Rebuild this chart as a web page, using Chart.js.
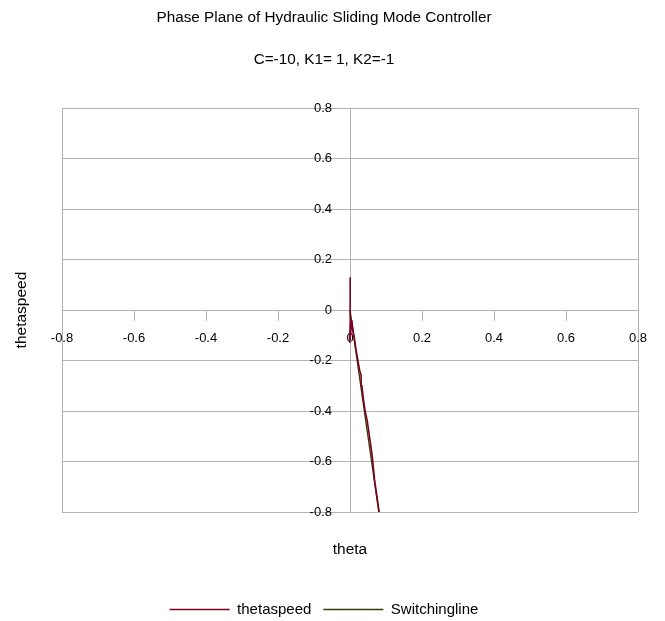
<!DOCTYPE html>
<html>
<head>
<meta charset="utf-8">
<script src="https://cdn.jsdelivr.net/npm/chart.js@4/dist/chart.umd.min.js"></script>
<style>
  html, body { margin: 0; padding: 0; background: #fff; }
  #wrap { width: 665px; height: 621px; }
</style>
</head>
<body>
<div id="wrap"><canvas id="c" width="665" height="621"></canvas></div>
<script>
// Phase-plane trajectory (theta, theta speed)
const trajTheta = [0.086, 0.081, 0.075, 0.068, 0.064, 0.061, 0.056, 0.052, 0.048, 0.042,
                   0.037, 0.033, 0.031, 0.027, 0.022, 0.017, 0.012, 0.008, 0.005, 0.002,
                   -0.001, 0.001, 0.0005, 0.0, 0.001, 0.0, 0.0008, 0.0];
const trajSpeed = [-0.84, -0.80, -0.74, -0.67, -0.61, -0.57, -0.52, -0.48, -0.44, -0.40,
                   -0.35, -0.30, -0.26, -0.24, -0.20, -0.16, -0.11, -0.08, -0.04, -0.09,
                   -0.13, -0.03, 0.13, 0.02, 0.10, 0.04, 0.07, 0.0];
// Switching line s = C*theta + thetaspeed = 0, C = -10
const switchTheta = [0, 0.02, 0.04, 0.06, 0.08, 0.09];
const switchSpeed = [0, -0.2, -0.4, -0.6, -0.8, -0.9];

const axisMin = -0.8, axisMax = 0.8, axisStep = 0.2;
const titleText = 'Phase Plane of Hydraulic Sliding Mode Controller';
const subtitleText = 'C=-10, K1= 1, K2=-1';
const xTitle = 'theta';
const yTitle = 'thetaspeed';
const seriesNames = ['thetaspeed', 'Switchingline'];

const FONT = 'Liberation Sans, Arial, sans-serif';
const GRID = '#b3b3b3';

const pts = (xs, ys) => xs.map((x, i) => ({ x: x, y: ys[i] }));

// The axes cross in the middle, so the axis titles get their own layout
// boxes: "theta" between the plot and the legend, "thetaspeed" on the left.
function titleBox(chart, position, size, paint) {
  return {
    options: {},
    position: position, weight: 0, fullSize: false,
    width: 0, height: 0, left: 0, right: 0, top: 0, bottom: 0,
    isHorizontal() { return position === 'top' || position === 'bottom'; },
    update(maxWidth, maxHeight) {
      if (this.isHorizontal()) { this.width = maxWidth; this.height = size; }
      else { this.width = size; this.height = maxHeight; }
      return { width: this.width, height: this.height };
    },
    draw() {
      const ctx = chart.ctx;
      ctx.save();
      ctx.fillStyle = '#000';
      ctx.font = '15.5px ' + FONT;
      ctx.textAlign = 'center';
      ctx.textBaseline = 'middle';
      paint.call(this, ctx, chart.chartArea);
      ctx.restore();
    }
  };
}

const axisTitles = {
  id: 'axisTitles',
  beforeInit(chart) {
    Chart.layouts.addBox(chart, titleBox(chart, 'bottom', 78, function (ctx, area) {
      ctx.fillText(xTitle, (area.left + area.right) / 2, this.top + 38);
    }));
    Chart.layouts.addBox(chart, titleBox(chart, 'left', 52, function (ctx, area) {
      ctx.translate(this.left + 12, (area.top + area.bottom) / 2);
      ctx.rotate(-Math.PI / 2);
      ctx.fillText(yTitle, 0, 0);
    }));
  }
};

new Chart(document.getElementById('c'), {
  type: 'scatter',
  data: {
    datasets: [
      {
        label: seriesNames[0],
        data: pts(trajTheta, trajSpeed),
        showLine: true,
        borderColor: '#7e0021',
        backgroundColor: '#7e0021',
        borderWidth: 1.6,
        pointRadius: 0,
        order: 0
      },
      {
        label: seriesNames[1],
        data: pts(switchTheta, switchSpeed),
        showLine: true,
        borderColor: '#314004',
        backgroundColor: '#314004',
        borderWidth: 1.4,
        pointRadius: 0,
        order: 1
      }
    ]
  },
  options: {
    responsive: false,
    animation: false,
    layout: { padding: { left: 10, right: 27, top: 0, bottom: -6 } },
    plugins: {
      title: {
        display: true,
        text: titleText,
        color: '#000',
        font: { family: FONT, size: 15.3, weight: 'normal' },
        padding: { top: 9, bottom: 23.6 }
      },
      subtitle: {
        display: true,
        text: subtitleText,
        color: '#000',
        font: { family: FONT, size: 15.3, weight: 'normal' },
        padding: { top: 0, bottom: 38.8 }
      },
      legend: {
        position: 'bottom',
        labels: {
          color: '#000',
          font: { family: FONT, size: 15 },
          usePointStyle: true,
          pointStyle: 'line',
          pointStyleWidth: 60,
          padding: 12
        }
      },
      tooltip: { enabled: false }
    },
    scales: {
      x: {
        type: 'linear',
        position: 'center',
        min: axisMin,
        max: axisMax,
        ticks: {
          stepSize: axisStep,
          color: '#000',
          font: { family: FONT, size: 13 },
          padding: 11,
          callback: v => String(Math.round(v * 10) / 10)
        },
        grid: {
          color: c => (c.tick && (Math.abs(c.tick.value) > 0.79)) ? GRID : 'rgba(0,0,0,0)',
          tickColor: GRID,
          tickLength: 10,
          lineWidth: 1
        },
        border: { display: true, color: GRID }
      },
      y: {
        type: 'linear',
        position: 'center',
        min: axisMin,
        max: axisMax,
        ticks: {
          stepSize: axisStep,
          color: '#000',
          font: { family: FONT, size: 13 },
          padding: 10,
          callback: v => String(Math.round(v * 10) / 10)
        },
        grid: {
          color: GRID,
          tickColor: GRID,
          tickLength: 8,
          lineWidth: 1
        },
        border: { display: true, color: GRID }
      }
    }
  },
  plugins: [axisTitles]
});
</script>
</body>
</html>
